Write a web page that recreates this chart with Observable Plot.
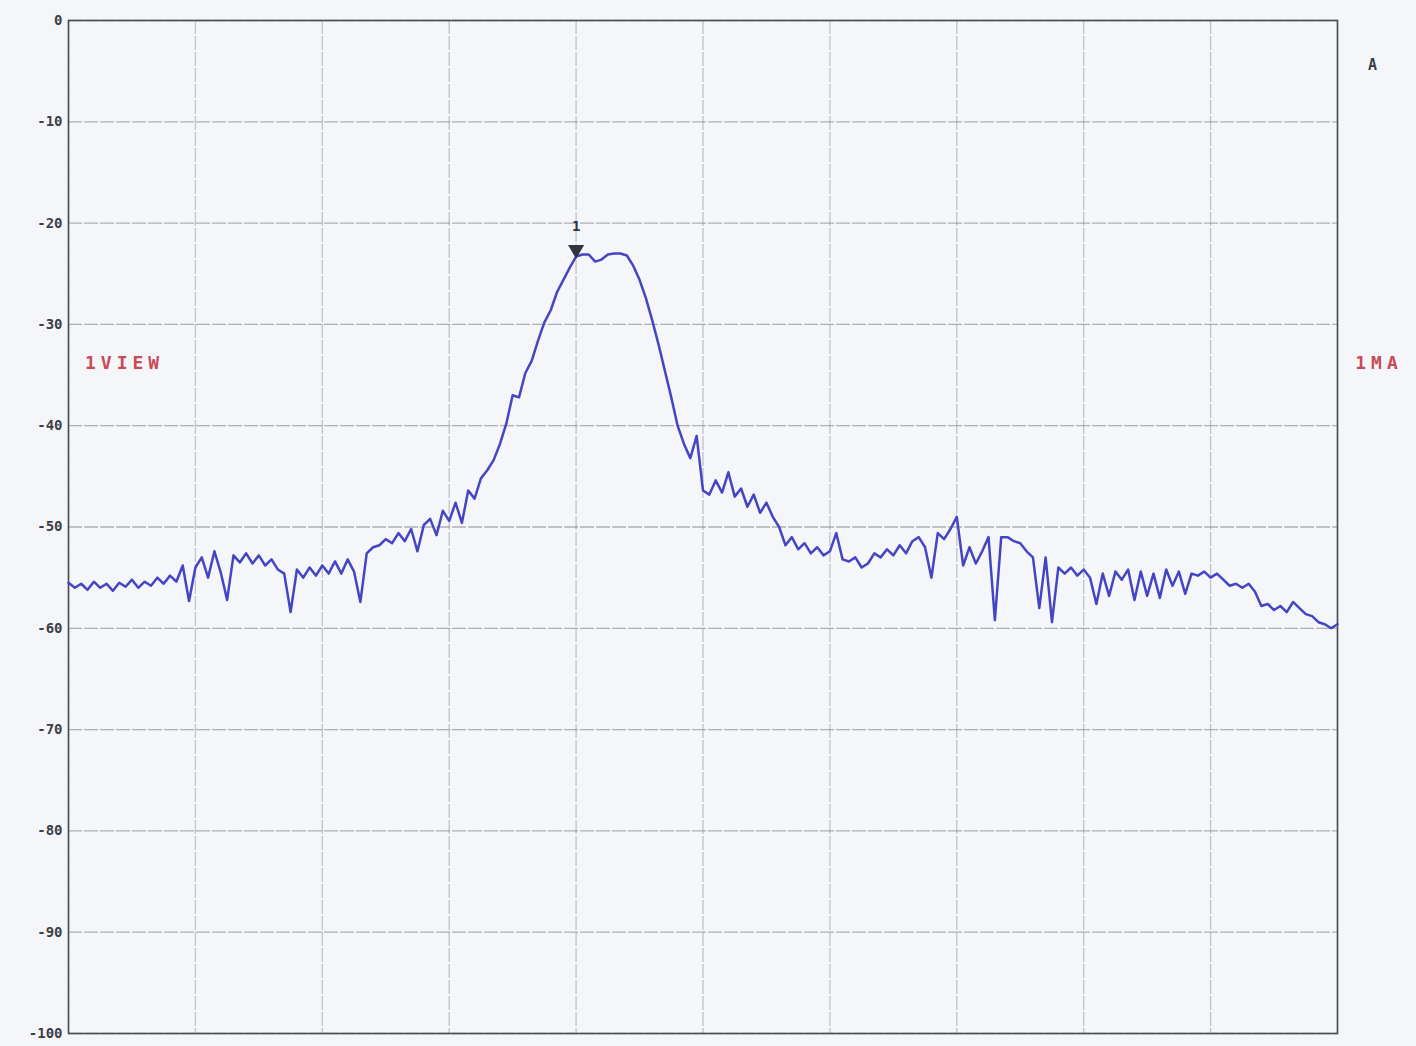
<!DOCTYPE html>
<html>
<head>
<meta charset="utf-8">
<script src="https://cdn.jsdelivr.net/npm/d3@7"></script>
<script src="https://cdn.jsdelivr.net/npm/@observablehq/plot@0.6"></script>
<style>
  html, body { margin: 0; padding: 0; background: #f4f6fa; }
  #chart svg { display: block; }
  .wide-label text { letter-spacing: 5px; }
</style>
</head>
<body>
<div id="chart"></div>
<script>
// Trace level (dB) sampled every 0.05 horizontal division, 0..10 divisions
const traceDb = [
  -55.5,-56.0,-55.6,-56.2,-55.4,-56.0,-55.6,-56.3,-55.5,-55.9,
  -55.2,-56.0,-55.4,-55.8,-55.0,-55.6,-54.8,-55.4,-53.8,-57.3,
  -54.0,-53.0,-55.0,-52.4,-54.5,-57.2,-52.8,-53.5,-52.6,-53.6,
  -52.8,-53.8,-53.2,-54.2,-54.6,-58.4,-54.2,-55.0,-54.0,-54.8,
  -53.8,-54.6,-53.4,-54.6,-53.2,-54.4,-57.4,-52.6,-52.0,-51.8,
  -51.2,-51.6,-50.6,-51.4,-50.2,-52.4,-49.8,-49.2,-50.8,-48.4,
  -49.4,-47.6,-49.6,-46.4,-47.2,-45.2,-44.4,-43.4,-41.8,-39.8,
  -37.0,-37.2,-34.8,-33.6,-31.6,-29.8,-28.6,-26.8,-25.6,-24.4,
  -23.3,-23.1,-23.1,-23.8,-23.6,-23.1,-23.0,-23.0,-23.2,-24.2,
  -25.6,-27.4,-29.6,-32.0,-34.6,-37.2,-40.0,-41.8,-43.2,-41.0,
  -46.4,-46.8,-45.4,-46.6,-44.6,-47.0,-46.2,-48.0,-46.8,-48.6,
  -47.6,-49.0,-50.0,-51.8,-51.0,-52.2,-51.6,-52.6,-52.0,-52.8,
  -52.4,-50.6,-53.2,-53.4,-53.0,-54.0,-53.6,-52.6,-53.0,-52.2,
  -52.8,-51.8,-52.6,-51.4,-51.0,-52.0,-55.0,-50.6,-51.2,-50.2,
  -49.0,-53.8,-52.0,-53.6,-52.4,-51.0,-59.2,-51.0,-51.0,-51.4,
  -51.6,-52.4,-53.0,-58.0,-53.0,-59.4,-54.0,-54.6,-54.0,-54.8,
  -54.2,-55.0,-57.6,-54.6,-56.8,-54.4,-55.2,-54.2,-57.2,-54.4,
  -56.8,-54.6,-57.0,-54.2,-55.8,-54.4,-56.6,-54.6,-54.8,-54.4,
  -55.0,-54.6,-55.2,-55.8,-55.6,-56.0,-55.6,-56.4,-57.8,-57.6,
  -58.2,-57.8,-58.4,-57.4,-58.0,-58.6,-58.8,-59.4,-59.6,-60.0,
  -59.6
];
const stepDiv = 0.05;
const xDivisions = [0,1,2,3,4,5,6,7,8,9,10];
const yTicks = [0,-10,-20,-30,-40,-50,-60,-70,-80,-90,-100];
const markerIndex = 80;
const markerLabel = "1";
const leftLabel = "1VIEW";
const rightLabel = "1MA";
const cornerLabel = "A";

const trace = traceDb.map((v, i) => ({x: i * stepDiv, y: v}));
const marker = [{x: markerIndex * stepDiv, y: traceDb[markerIndex]}];

const chart = Plot.plot({
  width: 1416,
  height: 1046,
  marginLeft: 68,
  marginRight: 79,
  marginTop: 20,
  marginBottom: 13,
  style: {background: "#f4f6fa", fontFamily: "DejaVu Sans Mono"},
  x: {domain: [0, 10], axis: null},
  y: {domain: [-100, 0], axis: null, label: null},
  marks: [
    Plot.ruleX(xDivisions, {x: d => d, stroke: "#8c9099", strokeOpacity: 0.5, strokeWidth: 1.3, strokeDasharray: "14,2"}),
    Plot.ruleY(yTicks, {y: d => d, stroke: "#7d8088", strokeOpacity: 0.6, strokeWidth: 1.3, strokeDasharray: "14,2"}),
    Plot.frame({stroke: "#4a4d55", strokeWidth: 1.6}),
    Plot.axisY({ticks: yTicks, label: null, tickSize: 0, tickPadding: 6, fontSize: 14, fontWeight: "bold", fill: "#3c3f46", tickFormat: d => String(d)}),
    Plot.line(trace, {x: "x", y: "y", curve: "linear", stroke: "#4545c4", strokeWidth: 2.5, strokeLinejoin: "round"}),
    Plot.dot(marker, {x: "x", y: "y", symbol: "triangle", rotate: 180, r: 5, fill: "#2f3540", stroke: "#2f3540", dy: -7}),
    Plot.text(marker, {x: "x", y: "y", text: () => markerLabel, dy: -30, fontSize: 14, fontWeight: "bold", fill: "#2f3540"}),
    Plot.text([leftLabel], {x: 0.13, y: -33.8, text: d => d, textAnchor: "start", fontSize: 18, fontWeight: "bold", fill: "#c84a55", className: "wide-label"}),
    Plot.text([rightLabel], {x: 10.14, y: -33.8, text: d => d, textAnchor: "start", fontSize: 18, fontWeight: "bold", fill: "#c84a55", className: "wide-label"}),
    Plot.text([cornerLabel], {x: 10.24, y: -4.4, text: d => d, textAnchor: "start", fontSize: 15, fontWeight: "bold", fill: "#3c3f46"})
  ]
});
document.getElementById("chart").append(chart);
</script>
</body>
</html>
